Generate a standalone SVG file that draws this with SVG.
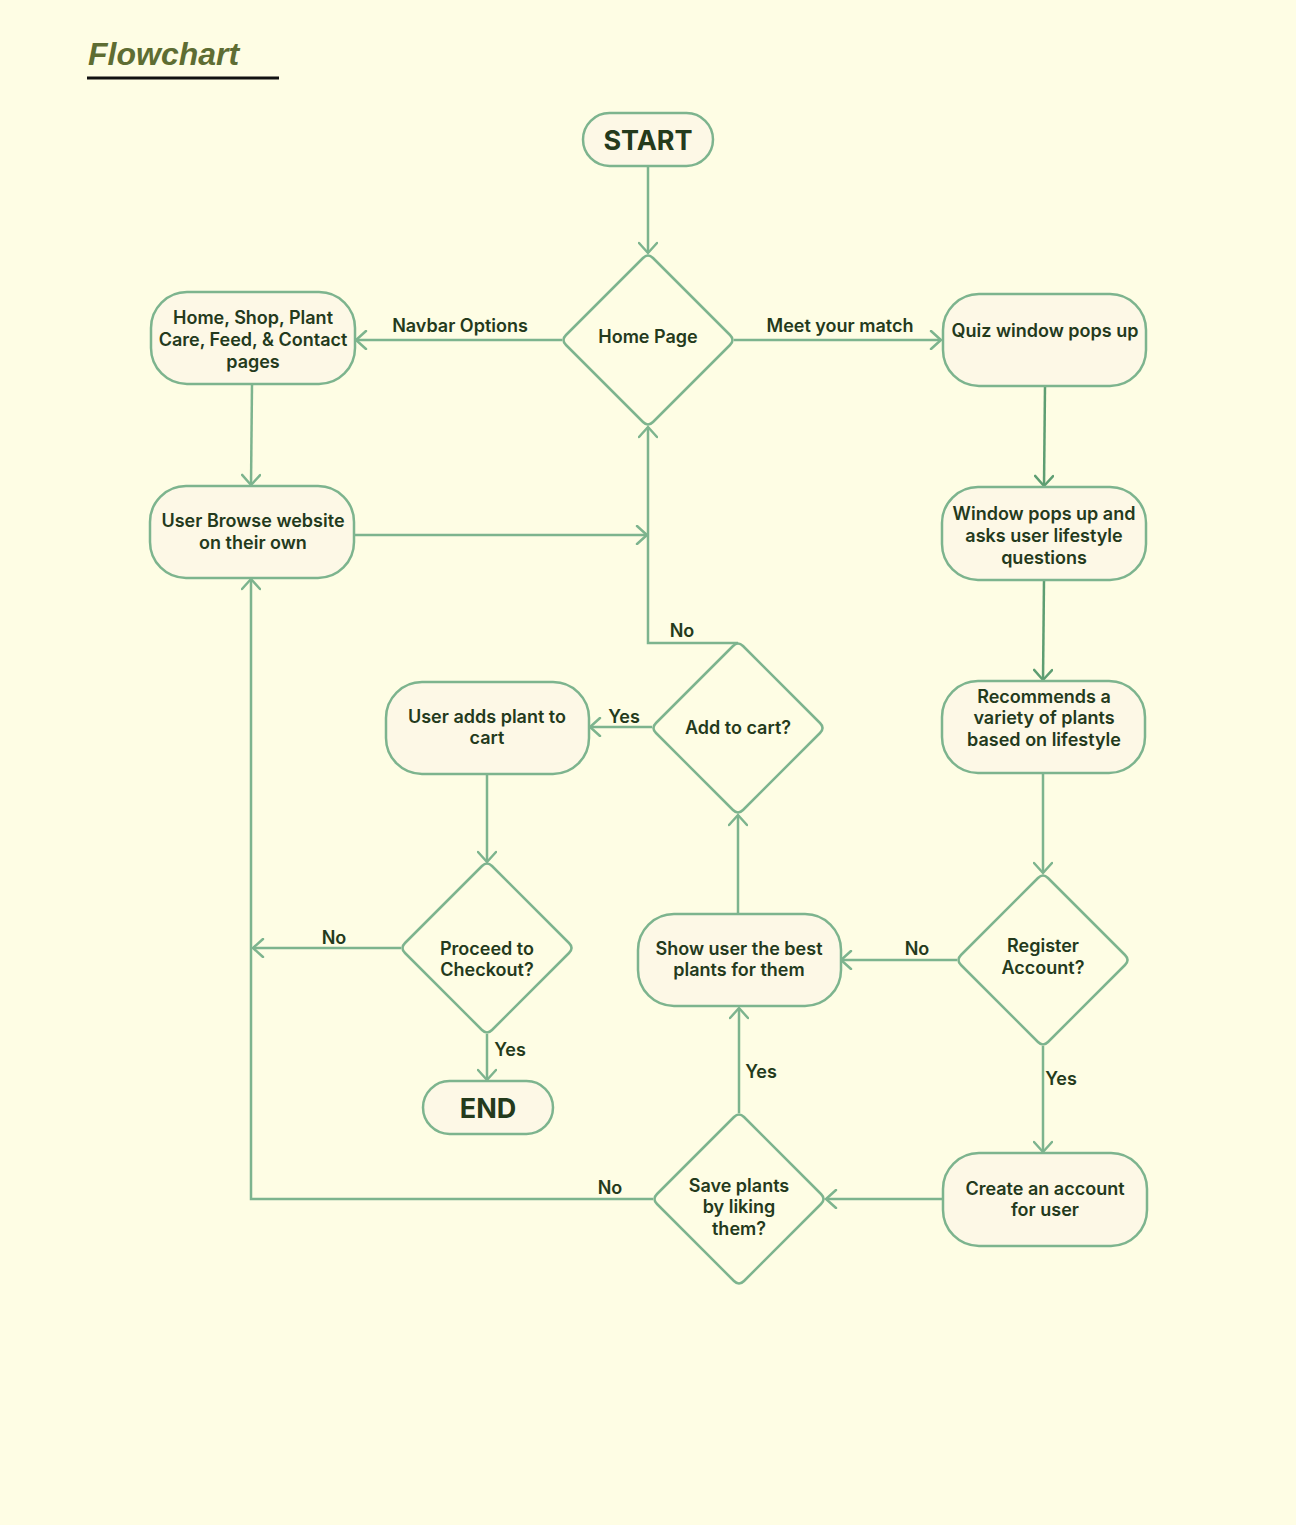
<svg xmlns="http://www.w3.org/2000/svg" width="1296" height="1525" viewBox="0 0 1296 1525">
  <style>
    .bg { fill: #FEFDE4; }
    .box { fill: #FDF8E6; stroke: #7DB48E; stroke-width: 2.5; }
    .dia { fill: #FEFDE4; stroke: #7DB48E; stroke-width: 2.5; }
    .lbl { font-family: Inter, "Noto Sans", "DejaVu Sans", sans-serif; font-weight: 600; font-size: 18px; fill: #243A1C; text-anchor: middle; }
    .big { font-size: 27px; font-weight: 700; }
    .edge { fill: none; stroke: #7DB48E; stroke-width: 2.5; }
    .dark { stroke: #5E9E72; }
    .title { font-family: "Liberation Sans", Arial, sans-serif; font-weight: 700; font-style: italic; font-size: 32px; fill: #5E6D33; }
  </style>
  <defs>
    <marker id="arrow" markerUnits="userSpaceOnUse" viewBox="0 0 14 20" markerWidth="14" markerHeight="20" refX="12" refY="10" orient="auto">
      <path d="M2,1 L12,10 L2,19" fill="none" stroke="#7DB48E" stroke-width="2.5" stroke-linecap="round"/>
    </marker>
    <marker id="arrowDark" markerUnits="userSpaceOnUse" viewBox="0 0 14 20" markerWidth="14" markerHeight="20" refX="12" refY="10" orient="auto">
      <path d="M2,1 L12,10 L2,19" fill="none" stroke="#5E9E72" stroke-width="2.5" stroke-linecap="round"/>
    </marker>
    <!-- decision shape, centred on the origin, half-diagonal 87 -->
    <path id="diamond" d="M5,-82 L82,-5 Q87,0 82,5 L5,82 Q0,87 -5,82 L-82,5 Q-87,0 -82,-5 L-5,-82 Q0,-87 5,-82 Z"/>
  </defs>

  <rect class="bg" x="0" y="0" width="1296" height="1525"/>

  <!-- heading -->
  <g id="heading">
    <text class="title" x="88" y="65">Flowchart</text>
    <line x1="87" y1="78" x2="279" y2="78" stroke="#111" stroke-width="3"/>
  </g>

  <!-- connectors -->
  <g id="connectors">
    <path class="edge" d="M648,166 L648,253" marker-end="url(#arrow)"/>
    <path class="edge" d="M562,340 L356,340" marker-end="url(#arrow)"/>
    <path class="edge" d="M734,340 L941,340" marker-end="url(#arrow)"/>
    <path class="edge" d="M252,384 L251,485" marker-end="url(#arrow)"/>
    <path class="edge" d="M354,535 L647,535" marker-end="url(#arrow)"/>
    <path class="edge dark" d="M1045,386 L1044,486" marker-end="url(#arrowDark)"/>
    <path class="edge dark" d="M1044,580 L1043,680" marker-end="url(#arrowDark)"/>
    <path class="edge" d="M1043,773 L1043,873" marker-end="url(#arrow)"/>
    <path class="edge" d="M957,960 L841,960" marker-end="url(#arrow)"/>
    <path class="edge" d="M1043,1046 L1043,1152" marker-end="url(#arrow)"/>
    <path class="edge" d="M943,1199 L826,1199" marker-end="url(#arrow)"/>
    <path class="edge" d="M739,1113 L739,1008" marker-end="url(#arrow)"/>
    <path class="edge" d="M738,914 L738,815" marker-end="url(#arrow)"/>
    <path class="edge" d="M652,727 L590,727" marker-end="url(#arrow)"/>
    <path class="edge" d="M738,643 L648,643 L648,427" marker-end="url(#arrow)"/>
    <path class="edge" d="M487,774 L487,862" marker-end="url(#arrow)"/>
    <path class="edge" d="M401,948 L253,948" marker-end="url(#arrow)"/>
    <path class="edge" d="M487,1034 L487,1080" marker-end="url(#arrow)"/>
    <path class="edge" d="M653,1199 L251,1199 L251,579" marker-end="url(#arrow)"/>

    <text class="lbl" x="460" y="332">Navbar Options</text>
    <text class="lbl" x="840" y="332">Meet your match</text>
    <text class="lbl" x="682" y="637">No</text>
    <text class="lbl" x="624" y="723">Yes</text>
    <text class="lbl" x="917" y="955">No</text>
    <text class="lbl" x="334" y="944">No</text>
    <text class="lbl" x="510" y="1056">Yes</text>
    <text class="lbl" x="1061" y="1085">Yes</text>
    <text class="lbl" x="761" y="1078">Yes</text>
    <text class="lbl" x="610" y="1194">No</text>
  </g>

  <g id="start">
    <rect class="box" x="583" y="113" width="130" height="53" rx="26.5"/>
    <text class="lbl big" x="648" y="150">START</text>
  </g>

  <g id="home-page">
    <use href="#diamond" class="dia" transform="translate(648,340)"/>
    <text class="lbl" x="648" y="343">Home Page</text>
  </g>

  <g id="site-pages">
    <rect class="box" x="151" y="292" width="204" height="92" rx="36"/>
    <text class="lbl" x="253" y="324">Home, Shop, Plant</text>
    <text class="lbl" x="253" y="346">Care, Feed, &amp; Contact</text>
    <text class="lbl" x="253" y="368">pages</text>
  </g>

  <g id="user-browse">
    <rect class="box" x="150" y="486" width="204" height="92" rx="36"/>
    <text class="lbl" x="253" y="527">User Browse website</text>
    <text class="lbl" x="253" y="549">on their own</text>
  </g>

  <g id="quiz-window">
    <rect class="box" x="943" y="294" width="203" height="92" rx="36"/>
    <text class="lbl" x="1045" y="337">Quiz window pops up</text>
  </g>

  <g id="lifestyle-questions">
    <rect class="box" x="942" y="487" width="204" height="93" rx="36"/>
    <text class="lbl" x="1044" y="520">Window pops up and</text>
    <text class="lbl" x="1044" y="542">asks user lifestyle</text>
    <text class="lbl" x="1044" y="564">questions</text>
  </g>

  <g id="recommends">
    <rect class="box" x="942" y="681" width="203" height="92" rx="36"/>
    <text class="lbl" x="1044" y="703">Recommends a</text>
    <text class="lbl" x="1044" y="724">variety of plants</text>
    <text class="lbl" x="1044" y="746">based on lifestyle</text>
  </g>

  <g id="register-account">
    <use href="#diamond" class="dia" transform="translate(1043,960)"/>
    <text class="lbl" x="1043" y="952">Register</text>
    <text class="lbl" x="1043" y="974">Account?</text>
  </g>

  <g id="create-account">
    <rect class="box" x="943" y="1153" width="204" height="93" rx="36"/>
    <text class="lbl" x="1045" y="1195">Create an account</text>
    <text class="lbl" x="1045" y="1216">for user</text>
  </g>

  <g id="save-plants">
    <use href="#diamond" class="dia" transform="translate(739,1199)"/>
    <text class="lbl" x="739" y="1192">Save plants</text>
    <text class="lbl" x="739" y="1213">by liking</text>
    <text class="lbl" x="739" y="1235">them?</text>
  </g>

  <g id="best-plants">
    <rect class="box" x="638" y="914" width="203" height="92" rx="36"/>
    <text class="lbl" x="739" y="955">Show user the best</text>
    <text class="lbl" x="739" y="976">plants for them</text>
  </g>

  <g id="add-to-cart">
    <use href="#diamond" class="dia" transform="translate(738,728)"/>
    <text class="lbl" x="738" y="734">Add to cart?</text>
  </g>

  <g id="adds-plant">
    <rect class="box" x="386" y="682" width="203" height="92" rx="36"/>
    <text class="lbl" x="487" y="723">User adds plant to</text>
    <text class="lbl" x="487" y="744">cart</text>
  </g>

  <g id="checkout">
    <use href="#diamond" class="dia" transform="translate(487,948)"/>
    <text class="lbl" x="487" y="955">Proceed to</text>
    <text class="lbl" x="487" y="976">Checkout?</text>
  </g>

  <g id="end">
    <rect class="box" x="423" y="1081" width="130" height="53" rx="26.5"/>
    <text class="lbl big" x="488" y="1118">END</text>
  </g>
</svg>
